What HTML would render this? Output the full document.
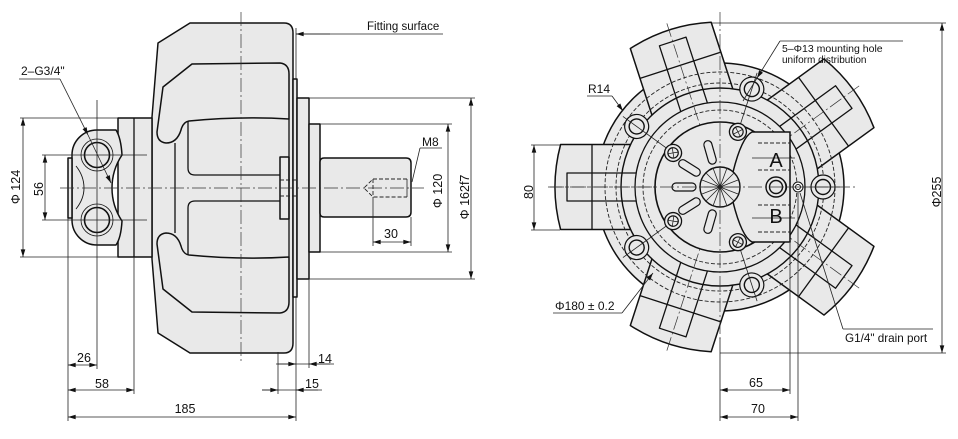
<!DOCTYPE html>
<html><head><meta charset="utf-8">
<style>
html,body{margin:0;padding:0;background:#fff;}
svg{display:block;}
text{font-family:"Liberation Sans",Arial,sans-serif;fill:#111;stroke:none;}
.cl{stroke:#333;stroke-width:0.7;stroke-dasharray:14 3 2 3;fill:none;}
.th{stroke:#222;stroke-width:0.8;fill:none;}
.dm{stroke:#222;stroke-width:0.8;fill:none;marker-start:url(#a);marker-end:url(#a);}
.ae{stroke:#222;stroke-width:0.8;fill:none;marker-end:url(#a);}
.hd{stroke:#222;stroke-width:0.9;fill:none;stroke-dasharray:4 2;}
</style></head><body>
<svg width="958" height="439" viewBox="0 0 958 439" xmlns="http://www.w3.org/2000/svg">
<defs>
<marker id="a" viewBox="0 0 10 6" refX="10" refY="3" markerWidth="8" markerHeight="4.6" markerUnits="userSpaceOnUse" orient="auto-start-reverse"><path d="M0,0L10,3L0,6z" fill="#111"/></marker>
</defs>

<!-- ================= LEFT VIEW ================= -->
<g stroke="#111" stroke-linejoin="round">
 <g fill="#e9e9e9" stroke-width="1.5">
  <path d="M158,43 L190,23 L284,23 Q293,23 293,33 L293,343 Q293,353 284,353 L190,353 L158,333 L152,259 L152,117 Z"/>
  <rect x="293" y="79" width="4" height="218"/>
  <rect x="297" y="98" width="12" height="181"/>
  <rect x="309" y="124" width="11" height="128"/>
  <path d="M320,162 Q320,158 324,158 L406,158 Q411,158 411,163 L411,212 Q411,217 406,217 L324,217 Q320,217 320,213 Z"/>
  <path id="cap" d="M163,87 L192,64 L280,63 Q289,64 289,74 L289,119 Q240,116 189,121 Q183,122 181,130 Q177,143 166,143 Q157,142 157,132 Z"/>
  <use href="#cap" transform="matrix(1,0,0,-1,0,376)"/>
  <rect x="280" y="157" width="9" height="62"/>
  <rect x="118" y="118" width="34" height="139"/>
  <path d="M97,130 L116,130 Q121,138 122,155 Q112,170 112,188 Q112,206 122,221 Q121,238 116,245 L97,245 A25,25 0 0 1 72,220 L72,155 A25,25 0 0 1 97,130 Z"/>
  <rect x="68" y="158" width="4" height="60"/>
 </g>
 <g fill="none" stroke-width="1.3">
  <path d="M188,121 L188,168 Q188,175 195,175 L280,175"/>
  <path d="M188,255 L188,208 Q188,201 195,201 L280,201"/>
  <line x1="175" y1="143" x2="175" y2="233"/>
  <line x1="134" y1="118" x2="134" y2="257"/>
  <line x1="289" y1="119" x2="289" y2="257"/>
  <path d="M76,166 Q84,176 84,188 Q84,199 76,209" stroke-width="0.9"/>
  <circle cx="97" cy="155" r="16" stroke-width="0.8"/>
  <circle cx="97" cy="155" r="12.5" stroke-width="1.6"/>
  <circle cx="97" cy="220" r="16" stroke-width="0.8"/>
  <circle cx="97" cy="220" r="12.5" stroke-width="1.6"/>
 </g>
 <path class="hd" d="M407,179 L373,179 L364,188 L373,197 L407,197"/>
 <line class="hd" x1="373" y1="179" x2="373" y2="197"/>
 <line class="th" x1="407" y1="179" x2="407" y2="197"/>
 <line class="hd" x1="280" y1="180" x2="297" y2="180"/>
 <line class="hd" x1="280" y1="196" x2="297" y2="196"/>
</g>

<!-- left centerlines -->
<line class="cl" x1="60" y1="188" x2="424" y2="188"/>
<line class="cl" x1="241" y1="12" x2="241" y2="362"/>

<!-- left extension lines -->
<g class="th">
 <line x1="20" y1="118" x2="118" y2="118"/>
 <line x1="20" y1="257" x2="118" y2="257"/>
 <line x1="42" y1="155" x2="147" y2="155"/>
 <line x1="42" y1="220" x2="147" y2="220"/>
 <line x1="97" y1="100" x2="97" y2="369"/>
 <line x1="68" y1="218" x2="68" y2="421"/>
 <line x1="134" y1="257" x2="134" y2="394"/>
 <line x1="278" y1="352" x2="278" y2="394"/>
 <line x1="296" y1="297" x2="296" y2="421"/>
 <line x1="309" y1="279" x2="309" y2="368"/>
 <line x1="373" y1="197" x2="373" y2="246"/>
 <line x1="411" y1="217" x2="411" y2="246"/>
 <line x1="320" y1="124" x2="452" y2="124"/>
 <line x1="320" y1="252" x2="452" y2="252"/>
 <line x1="309" y1="98" x2="475" y2="98"/>
 <line x1="309" y1="279" x2="475" y2="279"/>
 <line x1="296" y1="28" x2="296" y2="79"/>
 <line x1="296" y1="34" x2="443" y2="34"/>
 <line x1="262" y1="390" x2="322" y2="390"/>
 <line x1="276" y1="364" x2="334" y2="364"/>
 <line x1="19" y1="79" x2="60" y2="79"/>
 <line x1="420" y1="148" x2="442" y2="148"/>
 <line x1="420" y1="148" x2="412" y2="182"/>
</g>
<!-- left dimension lines -->
<line class="dm" x1="23" y1="118" x2="23" y2="257"/>
<line class="dm" x1="45" y1="155" x2="45" y2="220"/>
<line class="dm" x1="68" y1="365" x2="97" y2="365"/>
<line class="dm" x1="68" y1="390" x2="134" y2="390"/>
<line class="dm" x1="68" y1="417" x2="296" y2="417"/>
<line class="dm" x1="373" y1="242" x2="411" y2="242"/>
<line class="dm" x1="448" y1="124" x2="448" y2="252"/>
<line class="dm" x1="471" y1="98" x2="471" y2="279"/>
<line class="ae" x1="278" y1="364" x2="296" y2="364"/>
<line class="ae" x1="330" y1="364" x2="309" y2="364"/>
<line class="ae" x1="262" y1="390" x2="278" y2="390"/>
<line class="ae" x1="318" y1="390" x2="296" y2="390"/>
<line class="ae" x1="330" y1="34" x2="296" y2="34"/>
<line class="ae" x1="60" y1="79" x2="88" y2="135"/>
<line class="ae" x1="88" y1="135" x2="111" y2="183"/>

<!-- left texts -->
<text x="21" y="75" font-size="12">2–G3/4"</text>
<text x="367" y="30" font-size="11.5">Fitting surface</text>
<text x="422" y="146" font-size="12">M8</text>
<text x="391" y="238" font-size="12.5" text-anchor="middle">30</text>
<text x="84" y="362" font-size="12.5" text-anchor="middle">26</text>
<text x="102" y="388" font-size="12.5" text-anchor="middle">58</text>
<text x="185" y="413" font-size="12.5" text-anchor="middle">185</text>
<text x="318" y="363" font-size="12.5">14</text>
<text x="305" y="388" font-size="12.5">15</text>
<text transform="translate(20,187) rotate(-90)" font-size="12.5" text-anchor="middle">Φ 124</text>
<text transform="translate(43,189) rotate(-90)" font-size="12.5" text-anchor="middle">56</text>
<text transform="translate(442,191) rotate(-90)" font-size="12.5" text-anchor="middle">Φ 120</text>
<text transform="translate(469,197) rotate(-90)" font-size="12.5" text-anchor="middle">Φ 162f7</text>

<!-- ================= RIGHT VIEW ================= -->
<g stroke="#111" stroke-linejoin="round">
 <circle cx="720" cy="187" r="124" fill="#e9e9e9" stroke-width="1.5"/>
 <g id="cyl"><path d="M632,144.5 L560.6,144.5 A165,165 0 0 0 560.6,229.5 L632,229.5 Z" fill="#e9e9e9" stroke-width="1.5"/></g>
 <use href="#cyl" transform="rotate(72 720 187)"/>
 <use href="#cyl" transform="rotate(144 720 187)"/>
 <use href="#cyl" transform="rotate(216 720 187)"/>
 <use href="#cyl" transform="rotate(288 720 187)"/>
 <circle cx="720" cy="187" r="99" fill="#e9e9e9" stroke-width="1.4"/>
 <g id="cd" fill="none">
  <line x1="592" y1="144.5" x2="592" y2="229.5" stroke-width="1.3"/>
  <path d="M636,173 L567,173 L567,201 L636,201" stroke-width="1.3"/>
  <line class="cl" x1="548" y1="187" x2="700" y2="187"/>
 </g>
 <use href="#cd" transform="rotate(72 720 187)"/>
 <use href="#cd" transform="rotate(144 720 187)"/>
 <use href="#cd" transform="rotate(216 720 187)"/>
 <use href="#cd" transform="rotate(288 720 187)"/>
 <circle cx="720" cy="187" r="85" fill="none" stroke-width="1.3"/>
</g>
<circle class="hd" cx="720" cy="187" r="104" stroke-dasharray="6 3"/>
<circle class="hd" cx="720" cy="187" r="115" stroke-dasharray="6 3"/>
<circle class="hd" cx="720" cy="187" r="77" stroke-dasharray="6 3"/>

<!-- mounting holes -->
<g id="mh" stroke="#111">
 <circle cx="823" cy="187" r="12" fill="#e9e9e9" stroke-width="1.2"/>
 <circle cx="823" cy="187" r="7.5" fill="none" stroke-width="1.4"/>
 <line class="th" x1="700" y1="187" x2="840" y2="187" stroke-width="0.6"/>
</g>
<use href="#mh" transform="rotate(72 720 187)"/>
<use href="#mh" transform="rotate(144 720 187)"/>
<use href="#mh" transform="rotate(216 720 187)"/>
<use href="#mh" transform="rotate(288 720 187)"/>

<!-- flange -->
<circle cx="720" cy="187" r="65" fill="#e9e9e9" stroke="#111" stroke-width="1.6"/>

<!-- port block (joined to hub) -->
<path d="M752,132 L790,132 L790,242 L752,242 C744,238 738,222 733,202 L733,172 C738,152 744,136 752,132 Z" fill="#e9e9e9" stroke="#111" stroke-width="1.5"/>

<!-- small holes -->
<g id="sh" stroke="#111" fill="none">
 <circle cx="778" cy="187" r="8.5" fill="#e9e9e9" stroke-width="1.3"/>
 <circle cx="778" cy="187" r="5.2" stroke-width="1.2"/>
 <path d="M774.5,183.5 L781.5,190.5 M781.5,183.5 L774.5,190.5" stroke-width="0.7"/>
</g>
<use href="#sh" transform="rotate(72 720 187)"/>
<use href="#sh" transform="rotate(144 720 187)"/>
<use href="#sh" transform="rotate(216 720 187)"/>
<use href="#sh" transform="rotate(288 720 187)"/>
<!-- radial slots -->
<g id="sl"><rect x="672" y="183" width="24" height="8" rx="4" fill="#e9e9e9" stroke="#111" stroke-width="1.2"/></g>
<use href="#sl" transform="rotate(-74 720 187)"/>
<use href="#sl" transform="rotate(-32 720 187)"/>
<use href="#sl" transform="rotate(32 720 187)"/>
<use href="#sl" transform="rotate(74 720 187)"/>
<!-- center -->
<circle cx="720" cy="187" r="20" fill="#e9e9e9" stroke="#111" stroke-width="1.4"/>
<g class="th" stroke-width="0.5">
 <path d="M700,187 L740,187 M720,167 L720,207 M706,173 L734,201 M734,173 L706,201 M702,180 L738,194 M702,194 L738,180 M713,168 L727,206 M727,168 L713,206"/>
</g>

<!-- port block internals -->
<g class="hd">
 <line x1="758" y1="143" x2="790" y2="143"/>
 <line x1="758" y1="170" x2="790" y2="170"/>
 <line x1="758" y1="205" x2="790" y2="205"/>
 <line x1="758" y1="232" x2="790" y2="232"/>
</g>
<line class="th" x1="752" y1="158" x2="795" y2="158"/>
<line class="th" x1="752" y1="218" x2="795" y2="218"/>
<circle cx="776" cy="187" r="10" fill="#e9e9e9" stroke="#111" stroke-width="1.4"/>
<circle cx="776" cy="187" r="6.5" fill="none" stroke="#111" stroke-width="1.4"/>
<circle cx="798" cy="187" r="5" fill="#fff" stroke="#111" stroke-width="1"/>
<circle cx="798" cy="187" r="2.5" fill="none" stroke="#111" stroke-width="1"/>
<text x="776" y="167" font-size="20" text-anchor="middle">A</text>
<text x="776" y="223" font-size="20" text-anchor="middle">B</text>

<!-- right centerlines -->
<line class="cl" x1="550" y1="187" x2="855" y2="187"/>
<line class="cl" x1="720" y1="12" x2="720" y2="340"/>

<!-- right extension & dims -->
<g class="th">
 <line x1="712" y1="23" x2="946" y2="23"/>
 <line x1="720" y1="353" x2="946" y2="353"/>
 <line x1="531" y1="145" x2="560" y2="145"/>
 <line x1="531" y1="230" x2="560" y2="230"/>
 <line x1="720" y1="338" x2="720" y2="421"/>
 <line x1="790" y1="243" x2="790" y2="394"/>
 <line x1="798" y1="193" x2="798" y2="421"/>
 <line x1="587" y1="96" x2="612" y2="96"/>
 <line x1="780" y1="41" x2="903" y2="41"/>
 <line x1="757" y1="78" x2="743" y2="101"/>
 <line x1="553" y1="313" x2="622" y2="313"/>
 <line x1="843" y1="329" x2="933" y2="329"/>
 <line x1="843" y1="329" x2="800" y2="193"/>
</g>
<line class="dm" x1="942" y1="23" x2="942" y2="353"/>
<line class="dm" x1="534" y1="145" x2="534" y2="230"/>
<line class="dm" x1="720" y1="390" x2="790" y2="390"/>
<line class="dm" x1="720" y1="417" x2="798" y2="417"/>
<line class="ae" x1="612" y1="96" x2="623" y2="111"/>
<line class="ae" x1="780" y1="41" x2="757" y2="78"/>
<line class="ae" x1="622" y1="313" x2="653" y2="273"/>

<!-- right texts -->
<text x="588" y="93" font-size="12">R14</text>
<text x="782" y="52" font-size="10.5">5–Φ13 mounting hole</text>
<text x="782" y="63" font-size="10">uniform distribution</text>
<text x="555" y="310" font-size="12">Φ180 ± 0.2</text>
<text x="845" y="342" font-size="11.7">G1/4" drain port</text>
<text x="756" y="387" font-size="12.5" text-anchor="middle">65</text>
<text x="758" y="413" font-size="12.5" text-anchor="middle">70</text>
<text transform="translate(533,192) rotate(-90)" font-size="12.5" text-anchor="middle">80</text>
<text transform="translate(941,192) rotate(-90)" font-size="12.5" text-anchor="middle">Φ255</text>
</svg>
</body></html>
